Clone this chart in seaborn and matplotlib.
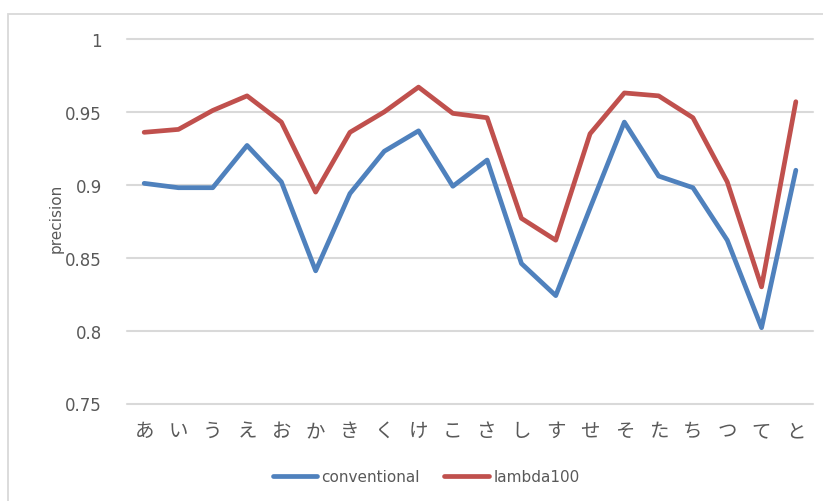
import matplotlib
matplotlib.use("Agg")
import matplotlib.pyplot as plt
from matplotlib.patches import Rectangle
import seaborn as sns
import pandas as pd

categories = ["あ", "い", "う", "え", "お", "か", "き", "く", "け", "こ",
              "さ", "し", "す", "せ", "そ", "た", "ち", "つ", "て", "と"]
conventional = [0.901, 0.898, 0.898, 0.927, 0.902, 0.841, 0.894, 0.923, 0.937, 0.899,
                0.917, 0.846, 0.824, 0.884, 0.943, 0.906, 0.898, 0.862, 0.802, 0.910]
lambda100 = [0.936, 0.938, 0.951, 0.961, 0.943, 0.895, 0.936, 0.950, 0.967, 0.949,
             0.946, 0.877, 0.862, 0.935, 0.963, 0.961, 0.946, 0.902, 0.830, 0.957]
series_names = ["conventional", "lambda100"]
y_ticks = [0.75, 0.8, 0.85, 0.9, 0.95, 1.0]
y_tick_labels = ["0.75", "0.8", "0.85", "0.9", "0.95", "1"]

df = pd.DataFrame({
    "category": categories * 2,
    "precision": conventional + lambda100,
    "series": [series_names[0]] * len(categories) + [series_names[1]] * len(categories),
})

sns.set_theme(style="white")
plt.rcParams["font.family"] = ["DejaVu Sans", "Noto Sans CJK JP"]

text_gray = "#595959"
grid_gray = "#D9D9D9"

fig = plt.figure(figsize=(8.23, 5.02), dpi=100)
fig.patch.set_facecolor("white")

# chart area frame
fig.patches.append(Rectangle((8 / 823, -0.1), 1.2, 1 - 15 / 502 + 0.1,
                             transform=fig.transFigure, fill=False,
                             edgecolor=grid_gray, linewidth=1.3))

ax = fig.add_axes([127 / 823, 1 - 404.5 / 502, (813 - 127) / 823, (404.5 - 40) / 502])
sns.lineplot(data=df, x="category", y="precision", hue="series",
             palette=["#4F81BD", "#C0504D"], linewidth=3.4, ax=ax,
             legend=False, sort=False)

ax.set_xlim(-0.5, len(categories) - 0.5)
ax.set_ylim(0.75, 1.0)
ax.set_yticks(y_ticks)
ax.set_yticklabels(y_tick_labels)
for y in y_ticks:
    ax.axhline(y, color=grid_gray, linewidth=1.5, zorder=0, clip_on=False)
for s in ax.spines.values():
    s.set_visible(False)
ax.tick_params(axis="y", length=0, pad=18, labelsize=12, labelcolor=text_gray)
ax.tick_params(axis="x", length=0, pad=12, labelsize=14, labelcolor=text_gray)
for t in ax.get_xticklabels():
    t.set_fontfamily(["Noto Sans CJK JP", "DejaVu Sans"])
ax.set_xlabel("")
ax.set_ylabel("precision", fontsize=11, color=text_gray)
ax.yaxis.set_label_coords(-(127 - 64) / 686, (404.5 - 218) / 364.5)

handles = [plt.Line2D([], [], color="#4F81BD", linewidth=3.4),
           plt.Line2D([], [], color="#C0504D", linewidth=3.4)]
leg = fig.legend(handles, series_names, loc="center",
                 bbox_to_anchor=(426 / 823, 1 - 478 / 502), ncol=2, frameon=False,
                 fontsize=11, handlelength=2.9, handletextpad=0.3, columnspacing=1.6)
for t in leg.get_texts():
    t.set_color(text_gray)

fig.savefig("out.png", dpi=100, facecolor="white")
